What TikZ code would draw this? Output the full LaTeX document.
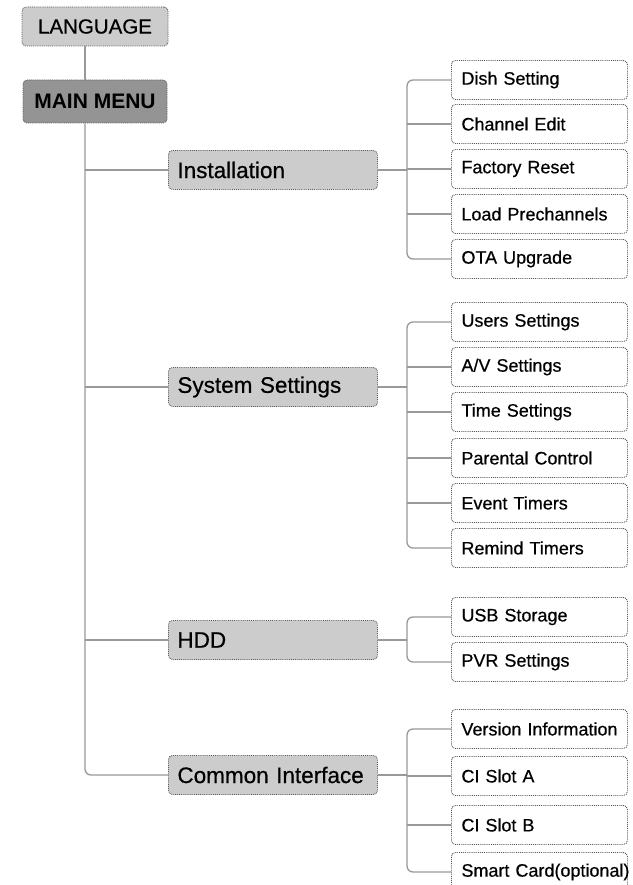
\documentclass[tikz,border=0pt]{standalone}
\usepackage{fontspec}
\setmainfont{Liberation Sans}
\newfontfamily\boxfont[FakeBold=0.5]{Liberation Sans}
\begin{document}
\begin{tikzpicture}[x=1pt,y=-1pt]
   \tikzstyle{box}=[draw=black!65, densely dotted, line width=0.9pt, rounded corners=4pt, minimum height=39pt]
   \tikzstyle{head}=[box, fill=black!20, minimum width=146pt, font=\boxfont\fontsize{20.5}{24}\selectfont]
   \tikzstyle{menu}=[box, fill=black!20, anchor=west, inner xsep=9pt, text width=191pt, align=left, font=\boxfont\fontsize{22.5}{26}\selectfont]
   \tikzstyle{item}=[box, fill=white, anchor=west, inner xsep=10pt, text width=156pt, align=left, font=\boxfont\fontsize{18}{21}\selectfont]
   \tikzstyle{conn}=[draw=black!40, solid, line width=1.3pt]
   \fill[white] (0,0) rectangle (632,885);
   \useasboundingbox (0,0) rectangle (632,885);
   \coordinate (trunk) at (85,0);
   \coordinate (spine) at (407,0);
   % top of the menu tree
   \node[head] (lang) at (95,26.5) {LANGUAGE};
   \node[head, fill=black!42, minimum width=144pt, minimum height=43pt, font=\fontsize{21}{24}\selectfont\bfseries] (main) at (95,101.5) {MAIN MENU};
   % first level
   \node[menu] (inst) at (168,170) {Installation};
   \node[menu] (sys) at (168,387) {System Settings};
   \node[menu] (hdd) at (168,640) {HDD};
   \node[menu] (ci) at (168,775) {Common Interface};
   % second level
   \foreach \n/\y/\t in {dish/80/Dish Setting, chan/124/Channel Edit, fact/169/Factory Reset, load/214/Load Prechannels, ota/259/OTA Upgrade,
      user/322/Users Settings, av/367/{A/V Settings}, time/412/Time Settings, par/458/Parental Control, event/503/Event Timers, remind/548/Remind Timers,
      usb/617/USB Storage, pvr/662/PVR Settings,
      ver/729/Version Information, slota/776/CI Slot A, slotb/825/CI Slot B, card/872/Smart Card(optional)}
      \node[item] (\n) at (451,\y) {\mbox{\t}};
   % connectors
   \draw[conn] (lang.south -| trunk) -- (main.north -| trunk);
   \draw[conn, rounded corners=6pt] (main.south -| trunk) -- (ci.west -| trunk) -- (ci.west);
   \foreach \n in {inst,sys,hdd}
      \draw[conn] (\n.west -| trunk) -- (\n.west);
   \foreach \p/\a/\b in {inst/dish/ota, sys/user/remind, hdd/usb/pvr, ci/ver/card} {
      \draw[conn] (\p.east) -- (\p.east -| spine);
      \draw[conn, rounded corners=6pt] (\a.west) -- (\a.west -| spine) -- (\b.west -| spine) -- (\b.west);
   }
   \foreach \n in {chan,fact,load,av,time,par,event,slota,slotb}
      \draw[conn] (\n.west -| spine) -- (\n.west);
\end{tikzpicture}
\end{document}
